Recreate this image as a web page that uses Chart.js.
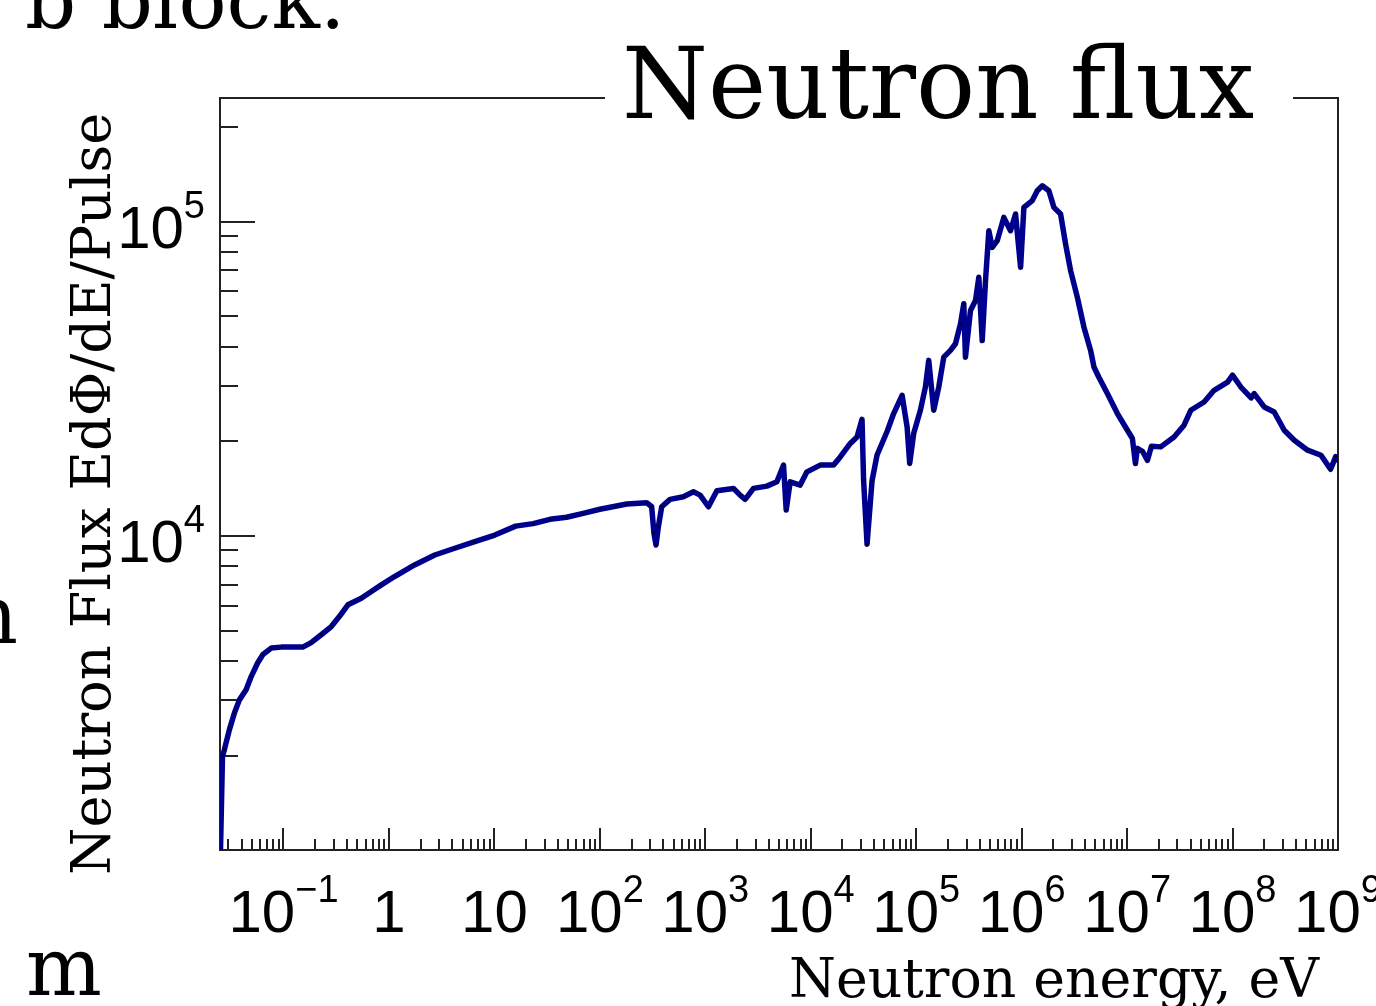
<!DOCTYPE html>
<html>
<head>
<meta charset="utf-8">
<script src="https://cdn.jsdelivr.net/npm/chart.js@4.4.0/dist/chart.umd.min.js"></script>
<style>
  html, body { margin: 0; padding: 0; background: #fff; overflow: hidden; }
  #wrap { width: 1376px; height: 1006px; position: relative; }
</style>
</head>
<body>
<div id="wrap"><canvas id="fluxChart"></canvas></div>
<script>
// neutron energy (eV)
const energy = [
  0.025, 0.0264, 0.0275, 0.0307, 0.0343, 0.0382, 0.0442, 0.0494, 0.057, 0.0636,
  0.0764, 0.0951, 0.1524, 0.183, 0.228, 0.284, 0.34, 0.408, 0.547, 0.681,
  0.847, 1.13, 1.75, 2.72, 4.21, 6.52, 10.1, 15.9, 23.3, 33.6,
  48.4, 69.5, 100, 144, 180, 278, 310, 326, 341, 359,
  386, 463, 620, 771, 893, 1071, 1287, 1850, 2140, 2390,
  2864, 3838, 4775, 5520, 5850, 6380, 7940, 9200, 12300, 16480,
  19050, 23700, 27470, 30640, 31700, 34200, 38150, 42550, 52950, 61130,
  73470, 82010, 86770, 94650, 109600, 122300, 131500, 146700, 163700, 182600,
  211300, 235700, 263000, 282700, 293200, 327200, 365100, 392500, 422700, 454300,
  488700, 526400, 586600, 677600, 784600, 875500, 977100, 1.05e6, 1.262e6, 1.407e6,
  1.57e6, 1.812e6, 2.022e6, 2.34e6, 2.61e6, 2.912e6, 3.372e6, 3.897e6, 4.508e6, 4.85e6,
  5.4e6, 6.5e6, 8.09e6, 1.007e7, 1.123e7, 1.2e7, 1.25e7, 1.4e7, 1.56e7, 1.7e7,
  2.084e7, 2.788e7, 3.467e7, 4.015e7, 5.372e7, 6.68e7, 8.97e7, 1.0e8, 1.199e8, 1.5e8,
  1.604e8, 1.995e8, 2.483e8, 3.09e8, 3.85e8, 5.15e8, 6.9e8, 8.5e8, 9.23e8, 9.5e8,
  1.0e9
];
// E dPhi/dE per pulse
const flux = [
  850, 1990, 2090, 2420, 2740, 3010, 3240, 3570, 3950, 4190,
  4400, 4430, 4430, 4580, 4850, 5150, 5550, 6040, 6340, 6660,
  6990, 7430, 8090, 8700, 9140, 9590, 10070, 10750, 10950, 11300,
  11470, 11800, 12160, 12450, 12640, 12760, 12390, 10200, 9360, 10700,
  12390, 13080, 13330, 13820, 13490, 12390, 13930, 14170, 13490, 13080,
  14170, 14410, 14870, 16810, 12090, 14870, 14520, 16000, 16810, 16810,
  17850, 19700, 20660, 23500, 15100, 9420, 15000, 18100, 21500, 24520,
  28030, 22230, 17020, 21180, 25120, 29780, 36200, 25120, 29780, 37070,
  38950, 40900, 47300, 54800, 37070, 52180, 56100, 66530, 41880, 64960,
  93630, 82820, 87010, 103200, 93630, 105800, 71610, 111100, 116700, 125400,
  130100, 125400, 111100, 105800, 84930, 69880, 57540, 46180, 38950, 34500,
  32000, 28380, 24520, 21700, 20420, 17000, 19000, 18600, 17400, 19300,
  19210, 20660, 22510, 25120, 26690, 29080, 30890, 32490, 29780, 27500,
  28380, 25740, 24800, 21700, 20170, 18750, 18070, 16300, 17430, 17900,
  17200
];
// decade exponents that carry a label
const xLabelPowers = [-1, 0, 1, 2, 3, 4, 5, 6, 7, 8, 9];
const yLabelPowers = [4, 5];

const chartTitle = 'Neutron flux';
const xTitle = 'Neutron energy, eV';
const yTitle = 'Neutron Flux Ed\u03A6/dE/Pulse';

const SANS = '"Liberation Sans", Arial, Helvetica, sans-serif';
const SERIF = '"DejaVu Serif", "Liberation Serif", serif';
const FRAME = '#222';

function labelParts(p) {
  if (p === 0) return ['1', ''];
  if (p === 1) return ['10', ''];
  return ['10', p < 0 ? '\u2212' + (-p) : String(p)];
}

function drawPowerLabel(ctx, p, x, baseline, align) {
  const parts = labelParts(p);
  ctx.font = '60px ' + SANS;
  const wb = ctx.measureText(parts[0]).width;
  ctx.font = '38px ' + SANS;
  const ws = parts[1] ? ctx.measureText(parts[1]).width : 0;
  const left = align === 'center' ? x - (wb + ws) / 2 : x - (wb + ws);
  ctx.textAlign = 'left';
  ctx.textBaseline = 'alphabetic';
  ctx.font = '60px ' + SANS;
  ctx.fillText(parts[0], left, baseline);
  if (parts[1]) {
    ctx.font = '38px ' + SANS;
    ctx.fillText(parts[1], left + wb, baseline - 30);
  }
}

// draw text so that its ink spans from inkLeft to inkRight
function fitText(ctx, text, family, inkLeft, inkRight, baseline) {
  ctx.textAlign = 'left';
  ctx.textBaseline = 'alphabetic';
  ctx.font = '100px ' + family;
  let m = ctx.measureText(text);
  const size = 100 * (inkRight - inkLeft) / (m.actualBoundingBoxLeft + m.actualBoundingBoxRight);
  ctx.font = size.toFixed(2) + 'px ' + family;
  m = ctx.measureText(text);
  ctx.fillText(text, inkLeft + m.actualBoundingBoxLeft, baseline);
}

const frameAndTicks = {
  id: 'frameAndTicks',
  beforeDatasetsDraw(chart) {
    const ctx = chart.ctx;
    const a = chart.chartArea;
    const xs = chart.scales.x, ys = chart.scales.y;
    ctx.save();
    ctx.strokeStyle = FRAME;
    ctx.lineWidth = 2;
    ctx.strokeRect(a.left, a.top, a.right - a.left, a.bottom - a.top);
    ctx.beginPath();
    for (let k = -2; k <= 9; k++) {
      for (let m = 1; m <= 9; m++) {
        const v = m * Math.pow(10, k);
        if (v < xs.min || v > xs.max * 1.0001) continue;
        const px = Math.round(xs.getPixelForValue(v));
        const len = m === 1 ? 22 : 11;
        ctx.moveTo(px, a.bottom);
        ctx.lineTo(px, a.bottom - len);
      }
    }
    for (let k = 3; k <= 5; k++) {
      for (let m = 1; m <= 9; m++) {
        const v = m * Math.pow(10, k);
        if (v < ys.min || v > ys.max) continue;
        const py = Math.round(ys.getPixelForValue(v));
        const len = m === 1 ? 35 : 18;
        ctx.moveTo(a.left, py);
        ctx.lineTo(a.left + len, py);
      }
    }
    ctx.stroke();
    ctx.restore();
  },
  afterDraw(chart) {
    const ctx = chart.ctx;
    const xs = chart.scales.x, ys = chart.scales.y;
    ctx.save();
    ctx.fillStyle = '#000';
    xLabelPowers.forEach(p => {
      drawPowerLabel(ctx, p, xs.getPixelForValue(Math.pow(10, p)), 932, 'center');
    });
    yLabelPowers.forEach(p => {
      drawPowerLabel(ctx, p, 205, ys.getPixelForValue(Math.pow(10, p)) + 26.5, 'right');
    });

    // title box sits over the top of the frame
    ctx.fillStyle = '#fff';
    ctx.fillRect(605, 30, 688, 100);
    ctx.fillStyle = '#000';
    fitText(ctx, chartTitle, SERIF, 626, 1254, 118);
    fitText(ctx, xTitle, SERIF, 791, 1320, 997);

    ctx.save();
    ctx.translate(110, 873);
    ctx.rotate(-Math.PI / 2);
    fitText(ctx, yTitle, SERIF, 0, 758, 0);
    ctx.restore();

    // pieces of the surrounding page text
    ctx.font = '80px ' + SERIF;
    ctx.textAlign = 'left';
    ctx.fillText('b block.', 25, 28);
    ctx.fillText('m', 26, 995);
    ctx.textAlign = 'right';
    ctx.fillText('n', 18, 643);
    ctx.restore();
  }
};

function buildChart() {
  const ctx = document.getElementById('fluxChart').getContext('2d');
  return new Chart(ctx, {
    type: 'line',
    data: {
      datasets: [{
        label: 'flux',
        data: energy.map((e, i) => ({ x: e, y: flux[i] })),
        borderColor: '#00008f',
        borderWidth: 5.5,
        borderJoinStyle: 'round',
        pointRadius: 1.2,
        pointBorderWidth: 0,
        pointBackgroundColor: '#000',
        fill: false,
        tension: 0
      }]
    },
    options: {
      responsive: true,
      maintainAspectRatio: false,
      animation: false,
      layout: { padding: { left: 220, right: 38, top: 98, bottom: 156 } },
      plugins: {
        legend: { display: false },
        tooltip: { enabled: false },
        title: { display: false }
      },
      scales: {
        x: { type: 'logarithmic', min: 0.025, max: 1e9, display: false },
        y: { type: 'logarithmic', min: 1002, max: 247500, display: false }
      }
    },
    plugins: [frameAndTicks]
  });
}

// make sure the local fonts are ready before the canvas text is drawn
Promise.all([
  document.fonts.load('60px "Liberation Sans"'),
  document.fonts.load('60px "DejaVu Serif"')
]).catch(() => {}).then(buildChart);
</script>
</body>
</html>
